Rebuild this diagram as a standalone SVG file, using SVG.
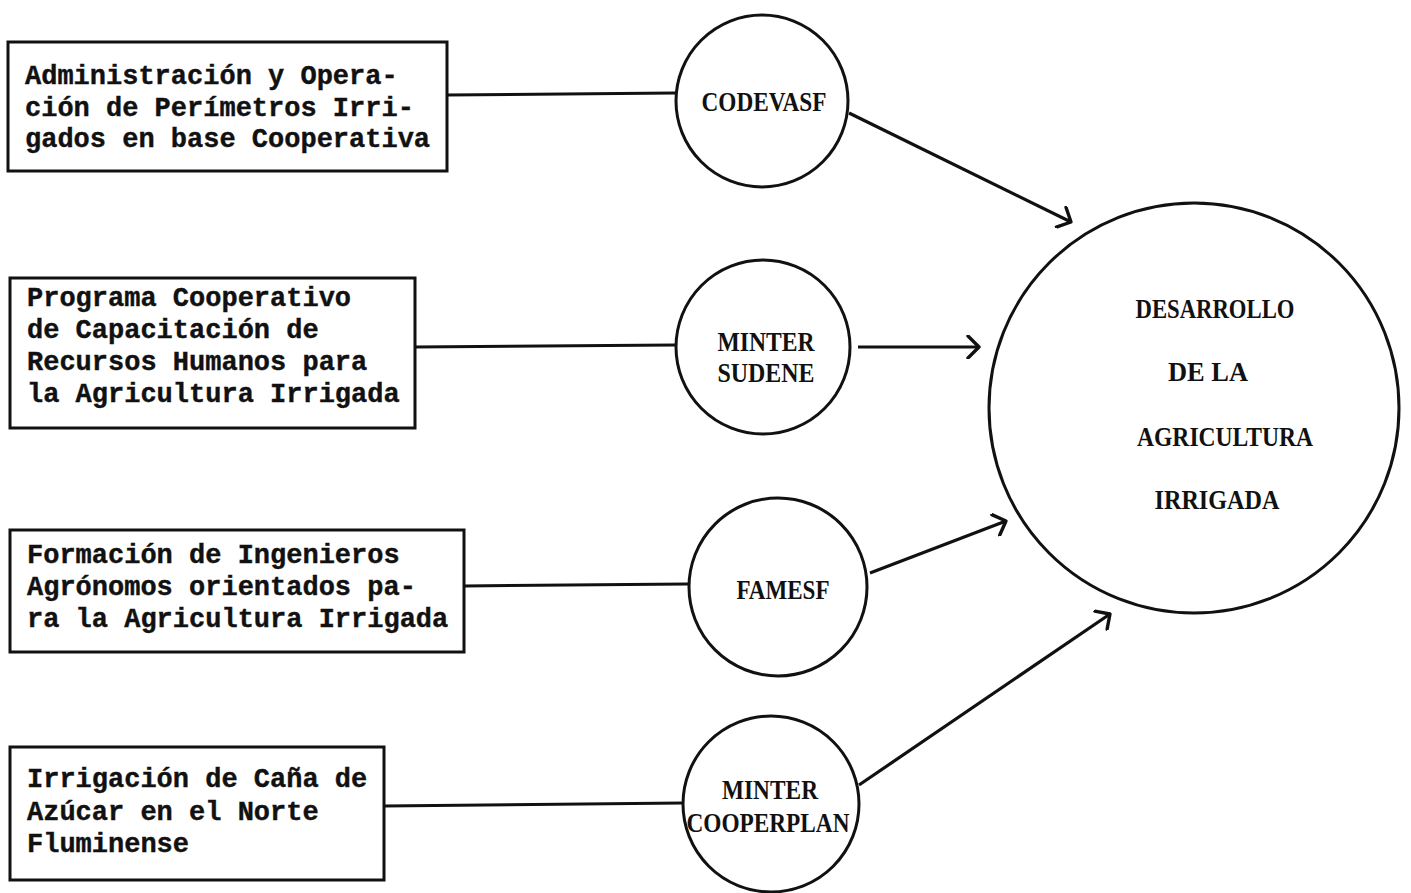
<svg xmlns="http://www.w3.org/2000/svg" width="1411" height="893" viewBox="0 0 1411 893">
<style>
.box{fill:#fff;stroke:#111;stroke-width:3}
.circ{fill:#fff;stroke:#111;stroke-width:3}
.t{font-family:"Liberation Mono","Courier New",monospace;font-weight:bold;font-size:27px;fill:#111;stroke:#111;stroke-width:0.4}
.c{font-family:"Liberation Serif","Times New Roman",serif;font-weight:bold;font-size:27px;fill:#111;text-anchor:middle}
.ln{stroke:#111;stroke-width:3;fill:none}
.ar{stroke:#111;stroke-width:3.2;fill:none;marker-end:url(#ah)}
</style>
<defs>
<marker id="ah" markerUnits="userSpaceOnUse" viewBox="0 0 24 24" markerWidth="24" markerHeight="24" refX="20" refY="12" orient="auto">
<path d="M9,1 L20,12 L9,23" fill="none" stroke="#111" stroke-width="3.4" stroke-linecap="round" stroke-linejoin="round"/>
</marker>
</defs>
<rect width="1411" height="893" fill="#fff"/>
<g id="connectors">
<path class="ln" d="M447,95 L675,93"/>
<path class="ln" d="M415,347 L675,345"/>
<path class="ln" d="M464,586 L688,584"/>
<path class="ln" d="M384,806 L683,803"/>
<path class="ar" d="M849,113 L1071,222"/>
<path class="ar" d="M858,347 L979,347"/>
<path class="ar" d="M870,573 L1006,521"/>
<path class="ar" d="M859,785 L1110,614"/>
</g>
<g id="box1">
<rect class="box" x="8" y="42" width="439" height="129"/>
<text class="t" x="25" y="84">Administración y Opera-</text>
<text class="t" x="25" y="116">ción de Perímetros Irri-</text>
<text class="t" x="25" y="147">gados en base Cooperativa</text>
</g>
<g id="box2">
<rect class="box" x="10" y="278" width="405" height="150"/>
<text class="t" x="27" y="306">Programa Cooperativo</text>
<text class="t" x="27" y="338">de Capacitación de</text>
<text class="t" x="27" y="370">Recursos Humanos para</text>
<text class="t" x="27" y="402">la Agricultura Irrigada</text>
</g>
<g id="box3">
<rect class="box" x="10" y="530" width="454" height="122"/>
<text class="t" x="27" y="563">Formación de Ingenieros</text>
<text class="t" x="27" y="595">Agrónomos orientados pa-</text>
<text class="t" x="27" y="627">ra la Agricultura Irrigada</text>
</g>
<g id="box4">
<rect class="box" x="10" y="747" width="374" height="133"/>
<text class="t" x="27" y="787">Irrigación de Caña de</text>
<text class="t" x="27" y="820">Azúcar en el Norte</text>
<text class="t" x="27" y="852">Fluminense</text>
</g>
<g id="codevasf">
<circle class="circ" cx="762" cy="101" r="86"/>
<text class="c" x="764" y="111" textLength="125" lengthAdjust="spacingAndGlyphs">CODEVASF</text>
</g>
<g id="minter-sudene">
<circle class="circ" cx="763" cy="347" r="87"/>
<text class="c" x="766" y="351" textLength="97" lengthAdjust="spacingAndGlyphs">MINTER</text>
<text class="c" x="766" y="382" textLength="97" lengthAdjust="spacingAndGlyphs">SUDENE</text>
</g>
<g id="famesf">
<circle class="circ" cx="778" cy="587" r="89"/>
<text class="c" x="783" y="599" textLength="93" lengthAdjust="spacingAndGlyphs">FAMESF</text>
</g>
<g id="minter-cooperplan">
<circle class="circ" cx="771" cy="804" r="88"/>
<text class="c" x="770" y="799" textLength="96" lengthAdjust="spacingAndGlyphs">MINTER</text>
<text class="c" x="768" y="832" textLength="163" lengthAdjust="spacingAndGlyphs">COOPERPLAN</text>
</g>
<g id="desarrollo">
<circle class="circ" cx="1194" cy="408" r="205"/>
<text class="c" x="1215" y="318" textLength="159" lengthAdjust="spacingAndGlyphs">DESARROLLO</text>
<text class="c" x="1208" y="381" textLength="80" lengthAdjust="spacingAndGlyphs">DE LA</text>
<text class="c" x="1225" y="446" textLength="176" lengthAdjust="spacingAndGlyphs">AGRICULTURA</text>
<text class="c" x="1217" y="509" textLength="125" lengthAdjust="spacingAndGlyphs">IRRIGADA</text>
</g>
</svg>
